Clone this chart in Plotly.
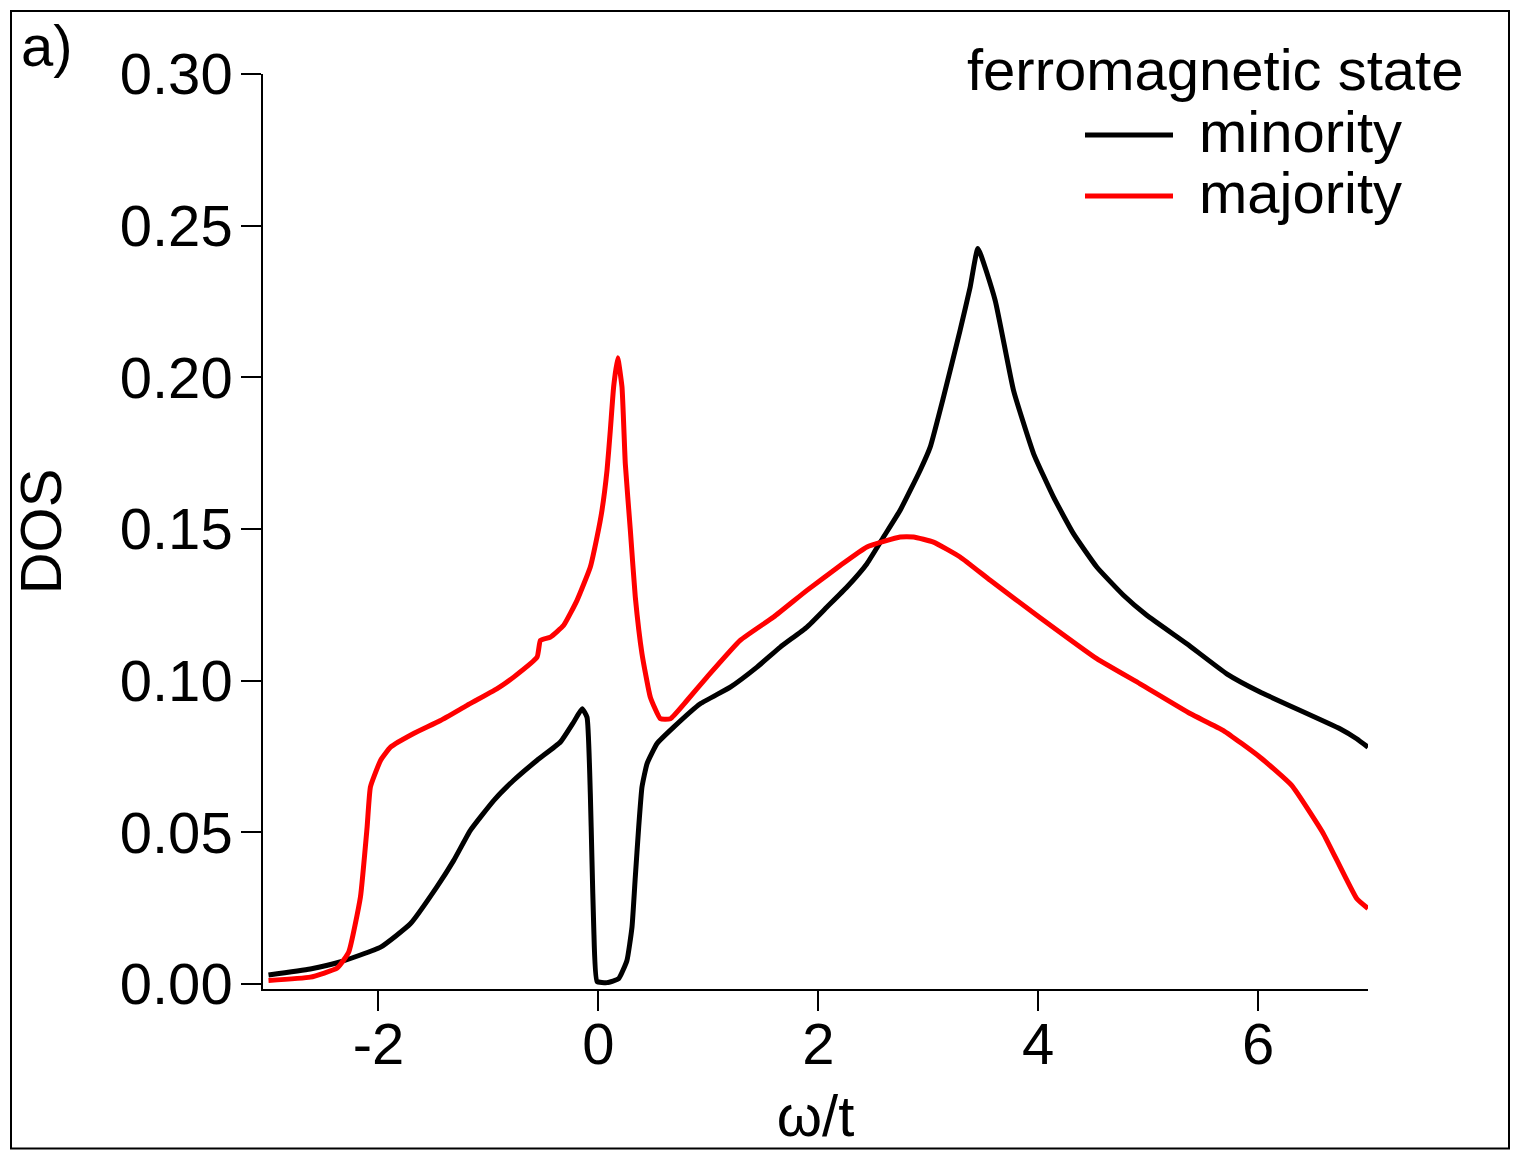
import plotly.graph_objects as go

# ---- data ----
minority_x = [-3.0, -2.62, -2.35, -1.98, -1.71, -1.47, -1.315, -1.164, -0.95, -0.77, -0.557, -0.345,
              -0.224, -0.148, -0.103, -0.073, -0.058, -0.042, -0.012, 0.079, 0.185, 0.26, 0.306, 0.336,
              0.367, 0.397, 0.443, 0.534, 0.685, 0.927, 1.2, 1.443, 1.655, 1.897, 2.079, 2.261, 2.443,
              2.594, 2.745, 2.927, 3.018, 3.139, 3.29, 3.382, 3.452, 3.609, 3.776, 3.958, 4.139, 4.321,
              4.533, 4.776, 4.988, 5.352, 5.715, 6.018, 6.745, 6.897, 7.0]
minority_y = [0.003, 0.005, 0.0073, 0.0122, 0.0199, 0.032, 0.0408, 0.0507, 0.0606, 0.0672, 0.0738, 0.0798,
              0.0864, 0.0908, 0.088, 0.0628, 0.0408, 0.0188, 0.0009, 0.0005, 0.0018, 0.0078, 0.0188, 0.0353,
              0.0518, 0.065, 0.0727, 0.0793, 0.0847, 0.0924, 0.0979, 0.1045, 0.1111, 0.1177, 0.1243, 0.1309, 0.1386,
              0.1474, 0.1562, 0.1694, 0.177, 0.1935, 0.2155, 0.2298, 0.2425, 0.2254, 0.1957, 0.1749, 0.1606, 0.1485,
              0.1375, 0.1282, 0.1216, 0.1122, 0.1023, 0.0963, 0.0842, 0.0809, 0.0781]

majority_x = [-3.0, -2.62, -2.375, -2.27, -2.164, -2.103, -2.073, -1.98, -1.89, -1.68, -1.436, -1.194,
              -0.92, -0.77, -0.557, -0.527, -0.436, -0.315, -0.194, -0.073, -0.012, 0.033, 0.079, 0.109,
              0.139, 0.176, 0.215, 0.245, 0.291, 0.336, 0.397, 0.473, 0.564, 0.655, 0.806, 0.988, 1.29,
              1.594, 1.897, 2.2, 2.443, 2.745, 2.867, 3.048, 3.29, 3.564, 4.018, 4.533, 4.927, 5.382,
              5.685, 6.018, 6.306, 6.594, 6.897, 7.0]
majority_y = [0.0012, 0.0023, 0.0053, 0.0106, 0.0287, 0.0518, 0.065, 0.0738, 0.0781, 0.0826, 0.0869, 0.0919,
              0.0974, 0.1012, 0.1078, 0.1133, 0.1144, 0.1183, 0.1265, 0.1375, 0.1474, 0.1562, 0.1694, 0.1826,
              0.1968, 0.2065, 0.1968, 0.1716, 0.1496, 0.1276, 0.1089, 0.0946, 0.0875, 0.0875, 0.0935, 0.1012, 0.1133,
              0.121, 0.1298, 0.138, 0.1441, 0.1474, 0.1474, 0.1457, 0.1408, 0.1331, 0.1208, 0.1073, 0.099, 0.0892,
              0.0836, 0.0748, 0.0655, 0.0496, 0.0282, 0.0249]

x_ticks = [-2, 0, 2, 4, 6]
y_ticks = [0.0, 0.05, 0.10, 0.15, 0.20, 0.25, 0.30]
series_names = ["minority", "majority"]
series_colors = ["#000000", "#ff0000"]
legend_title = "ferromagnetic state"
panel_label = "a)"

FONT = "Liberation Sans, Arial, Helvetica, sans-serif"

fig = go.Figure()
fig.add_trace(go.Scatter(x=minority_x, y=minority_y, mode="lines", name=series_names[0],
                         line=dict(color=series_colors[0], width=5, shape="spline", smoothing=0.4)))
fig.add_trace(go.Scatter(x=majority_x, y=majority_y, mode="lines", name=series_names[1],
                         line=dict(color=series_colors[1], width=5, shape="spline", smoothing=0.4)))

# page body has an 8px margin: figure coords = screen coords - 8
OFF = 8
W, H = 1504, 1144
L = 263 - OFF
T = 74 - OFF
PR = 1368 - OFF
PB = 989 - OFF
R, B = W - PR, H - PB
pw, ph = PR - L, PB - T

def px(xpix):
    return (xpix - OFF - L) / pw

def py(ypix):
    return (PB - (ypix - OFF)) / ph

shapes = [
    dict(type="rect", xref="paper", yref="paper", x0=px(11), x1=px(1509), y0=py(1148.5), y1=py(11),
         line=dict(color="black", width=2), fillcolor="rgba(0,0,0,0)", layer="above"),
]
annotations = [
    dict(text=panel_label, xref="paper", yref="paper", x=px(19), y=py(45), xanchor="left", yanchor="middle",
         showarrow=False, font=dict(size=58, color="black", family=FONT)),
    dict(text=legend_title, xref="paper", yref="paper", x=px(1465), y=py(70), xanchor="right", yanchor="middle",
         showarrow=False, font=dict(size=58, color="black", family=FONT)),
]
leg_y = [135, 196]
for name, col, yy in zip(series_names, series_colors, leg_y):
    shapes.append(dict(type="line", xref="paper", yref="paper", x0=px(1085), x1=px(1173), y0=py(yy), y1=py(yy),
                       line=dict(color=col, width=5)))
    annotations.append(dict(text=name, xref="paper", yref="paper", x=px(1197), y=py(yy - 4), xanchor="left",
                            yanchor="middle", showarrow=False, font=dict(size=58, color="black", family=FONT)))

fig.update_layout(
    width=W, height=H,
    margin=dict(l=L, r=R, t=T, b=B, pad=0),
    paper_bgcolor="white", plot_bgcolor="white",
    showlegend=False,
    font=dict(family=FONT, color="black", size=58),
    shapes=shapes, annotations=annotations,
)
fig.update_xaxes(
    range=[-3.05, 7.0], tickvals=x_ticks, ticktext=[str(v) for v in x_ticks],
    showline=True, linecolor="black", linewidth=1.5, mirror=False,
    ticks="outside", ticklen=20, tickwidth=1.5, tickcolor="black",
    showgrid=False, zeroline=False, ticklabelstandoff=-16,
    tickfont=dict(size=58, family=FONT, color="black"),
    title=dict(text="ω/t", font=dict(size=58, family=FONT, color="black"), standoff=20),
)
fig.update_yaxes(
    range=[-0.0016, 0.30], tickvals=y_ticks, ticktext=[f"{v:.2f}" for v in y_ticks],
    showline=True, linecolor="black", linewidth=1.5, mirror=False,
    ticks="outside", ticklen=20, tickwidth=1.5, tickcolor="black",
    showgrid=False, zeroline=False, ticklabelstandoff=-3,
    tickfont=dict(size=58, family=FONT, color="black"),
    title=dict(text="DOS", font=dict(size=58, family=FONT, color="black"), standoff=43),
)

fig.write_html("out.html")
